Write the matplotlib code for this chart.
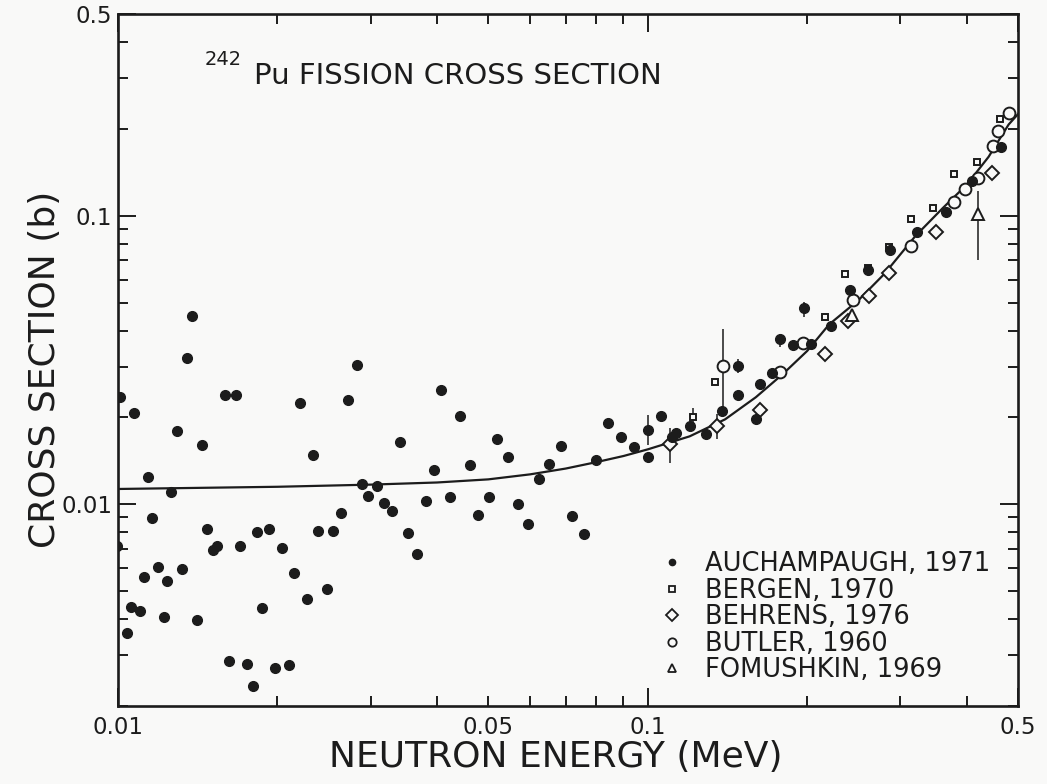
import matplotlib
matplotlib.use('Agg')
import matplotlib.pyplot as plt
from matplotlib.ticker import FixedLocator, FixedFormatter
from matplotlib.lines import Line2D

# Auchampaugh 1971 (filled dots)
auch_x = [0.0101, 0.0107, 0.0138, 0.0135, 0.0129, 0.0159, 0.0167, 0.0144, 0.0114, 0.0126,
          0.0116, 0.00997, 0.0104, 0.0106, 0.011, 0.0112, 0.0119, 0.0124, 0.0122, 0.0132,
          0.0141, 0.0147, 0.0151, 0.0154, 0.017, 0.0162, 0.0175, 0.018, 0.0183, 0.0193,
          0.0187, 0.0204, 0.0198, 0.021, 0.0215, 0.0221, 0.0227, 0.0233, 0.0239, 0.0248,
          0.0255, 0.0264, 0.0272, 0.0282, 0.0289, 0.0308, 0.0297, 0.0318, 0.0329, 0.0341,
          0.0352, 0.0367, 0.0382, 0.0395, 0.0408, 0.0424, 0.0442, 0.0461, 0.0478, 0.0501,
          0.052, 0.0544, 0.057, 0.0594, 0.0624, 0.0652, 0.0686, 0.072, 0.0757, 0.0797,
          0.0843, 0.0891, 0.0942,
          0.1, 0.1, 0.106, 0.111, 0.113, 0.12, 0.129, 0.138, 0.148, 0.148,
          0.16, 0.163, 0.172, 0.178, 0.188, 0.203, 0.197, 0.222, 0.241, 0.261,
          0.287, 0.322, 0.366, 0.409, 0.464]
auch_y = [0.0236, 0.0208, 0.0449, 0.0321, 0.018, 0.024, 0.0239, 0.016, 0.0124, 0.011,
          0.00893, 0.00717, 0.00358, 0.0044, 0.00426, 0.00562, 0.00608, 0.00543, 0.00407, 0.00597,
          0.00396, 0.00818, 0.00692, 0.00719, 0.00717, 0.00287, 0.00279, 0.00234, 0.008, 0.00824,
          0.00436, 0.00707, 0.0027, 0.00278, 0.00578, 0.0224, 0.00469, 0.0148, 0.00806, 0.00507,
          0.00811, 0.00935, 0.023, 0.0304, 0.0118, 0.0116, 0.0107, 0.0101, 0.00951, 0.0165,
          0.00796, 0.00673, 0.0103, 0.0131, 0.0248, 0.0106, 0.0203, 0.0137, 0.00918, 0.0106,
          0.0169, 0.0146, 0.01, 0.00856, 0.0122, 0.0138, 0.0159, 0.00914, 0.0079, 0.0142,
          0.0191, 0.0171, 0.0158,
          0.0181, 0.0146, 0.0202, 0.0171, 0.0176, 0.0187, 0.0175, 0.021, 0.0301, 0.0239,
          0.0197, 0.0262, 0.0285, 0.0374, 0.0356, 0.0358, 0.0477, 0.0415, 0.0552, 0.0651,
          0.0761, 0.0876, 0.103, 0.132, 0.173]

# Bergen 1970 (small open squares)
bergen_x = [0.122, 0.134, 0.216, 0.236, 0.261, 0.286, 0.314, 0.346, 0.379, 0.419, 0.462]
bergen_y = [0.02, 0.0265, 0.0446, 0.0627, 0.0661, 0.078, 0.0972, 0.106, 0.14, 0.153, 0.217]

# Behrens 1976 (open diamonds)
behrens_x = [0.11, 0.135, 0.163, 0.216, 0.239, 0.262, 0.286, 0.35, 0.447]
behrens_y = [0.0162, 0.0187, 0.0213, 0.0332, 0.0431, 0.0529, 0.0634, 0.0881, 0.141]

# Butler 1960 (open circles)
butler_x = [0.139, 0.178, 0.196, 0.244, 0.314, 0.379, 0.397, 0.42, 0.449, 0.459, 0.481]
butler_y = [0.0301, 0.0287, 0.0361, 0.0509, 0.0784, 0.112, 0.124, 0.135, 0.175, 0.197, 0.227]

# Fomushkin 1969 (open triangles)
fom_x = [0.42, 0.243]
fom_y = [0.101, 0.0452]

# vertical error bars
eb_x = [0.1, 0.11, 0.122, 0.135, 0.139, 0.148, 0.163, 0.178, 0.197, 0.42]
eb_lo = [0.0161, 0.0139, 0.019, 0.0168, 0.021, 0.0284, 0.025, 0.0351, 0.0444, 0.0701]
eb_hi = [0.0204, 0.0184, 0.0216, 0.0206, 0.0405, 0.0318, 0.0272, 0.0389, 0.0501, 0.122]

# evaluated curve
fit_x = [0.01, 0.02, 0.03, 0.04, 0.05, 0.06, 0.07, 0.08, 0.09, 0.1, 0.12, 0.14, 0.16,
         0.18, 0.2, 0.22, 0.25, 0.28, 0.32, 0.36, 0.4, 0.44, 0.48, 0.5]
fit_y = [0.0113, 0.0115, 0.0117, 0.0119, 0.0122, 0.0127, 0.0133, 0.014, 0.0147, 0.0155,
         0.0172, 0.0197, 0.0235, 0.0283, 0.034, 0.042, 0.051, 0.063, 0.085, 0.106, 0.128,
         0.16, 0.207, 0.225]

legend_labels = ['AUCHAMPAUGH, 1971', 'BERGEN, 1970', 'BEHRENS, 1976', 'BUTLER, 1960',
                 'FOMUSHKIN, 1969']

xmajor = [0.01, 0.1, 0.5]
xmajor_lab = ['0.01', '0.1', '0.5']
xminor = [0.02, 0.03, 0.04, 0.05, 0.06, 0.07, 0.08, 0.09, 0.2, 0.3, 0.4]
xminor_lab = ['', '', '', '0.05', '', '', '', '', '', '', '']
ymajor = [0.01, 0.1, 0.5]
ymajor_lab = ['0.01', '0.1', '0.5']
yminor = [0.002, 0.003, 0.004, 0.005, 0.006, 0.007, 0.008, 0.009,
          0.02, 0.03, 0.04, 0.05, 0.06, 0.07, 0.08, 0.09, 0.2, 0.3, 0.4]

plt.rcParams['font.family'] = ['DejaVu Sans']
paper = '#f9f9f8'
ink = '#1c1c1c'

fig = plt.figure(figsize=(10.47, 7.84), dpi=100, facecolor=paper)
ax = fig.add_axes([0.1127, 0.0995, 0.8596, 0.8826])
ax.set_facecolor(paper)
ax.set_xscale('log')
ax.set_yscale('log')
ax.set_xlim(0.01, 0.5)
ax.set_ylim(0.002, 0.5)

ax.plot(fit_x, fit_y, color=ink, lw=1.6, zorder=2)
ax.vlines(eb_x, eb_lo, eb_hi, color=ink, lw=1.1, zorder=2)
ax.plot(bergen_x, bergen_y, 's', ls='none', ms=5, mfc=paper, mec=ink, mew=1.4, zorder=3)
ax.plot(behrens_x, behrens_y, 'D', ls='none', ms=7, mfc=paper, mec=ink, mew=1.4, zorder=3)
ax.plot(butler_x, butler_y, 'o', ls='none', ms=8.5, mfc=paper, mec=ink, mew=1.4, zorder=3)
ax.plot(fom_x, fom_y, '^', ls='none', ms=8.5, mfc=paper, mec=ink, mew=1.4, zorder=3)
ax.plot(auch_x, auch_y, 'o', ls='none', ms=7, color=ink, zorder=4)

ax.xaxis.set_major_locator(FixedLocator(xmajor))
ax.xaxis.set_major_formatter(FixedFormatter(xmajor_lab))
ax.xaxis.set_minor_locator(FixedLocator(xminor))
ax.xaxis.set_minor_formatter(FixedFormatter(xminor_lab))
ax.yaxis.set_major_locator(FixedLocator(ymajor))
ax.yaxis.set_major_formatter(FixedFormatter(ymajor_lab))
ax.yaxis.set_minor_locator(FixedLocator(yminor))
ax.yaxis.set_minor_formatter(FixedFormatter([''] * len(yminor)))

ax.tick_params(which='both', direction='in', top=True, right=True, color=ink,
               labelcolor=ink, labelsize=16.5, width=1.4)
ax.tick_params(which='major', length=13)
ax.tick_params(which='minor', length=7)
ax.tick_params(axis='x', which='both', pad=7)
ax.tick_params(axis='y', which='both', pad=4)
for s in ax.spines.values():
    s.set_linewidth(1.9)
    s.set_color(ink)

fig.text(45 / 1047, 1 - 369 / 784, 'CROSS SECTION (b)', rotation=90, ha='center', va='center',
         fontsize=26, color=ink)
fig.text(556 / 1047, 1 - 757 / 784, 'NEUTRON ENERGY (MeV)', ha='center', va='center',
         fontsize=26, color=ink)
fig.text(205 / 1047, 1 - 65 / 784, '242', ha='left', va='baseline', fontsize=14, color=ink)
fig.text(254 / 1047, 1 - 84 / 784, 'Pu FISSION CROSS SECTION', ha='left', va='baseline',
         fontsize=21, color=ink)

handles = [Line2D([], [], ls='none', marker='o', ms=4.5, color=ink),
           Line2D([], [], ls='none', marker='s', ms=4, mfc=paper, mec=ink, mew=1.3),
           Line2D([], [], ls='none', marker='D', ms=6, mfc=paper, mec=ink, mew=1.3),
           Line2D([], [], ls='none', marker='o', ms=6, mfc=paper, mec=ink, mew=1.3),
           Line2D([], [], ls='none', marker='^', ms=5.5, mfc=paper, mec=ink, mew=1.3)]
leg = ax.legend(handles, legend_labels, loc='upper left', bbox_to_anchor=(0.601, 0.224),
                frameon=False, prop={'size': 18.5}, handlelength=1.0,
                handletextpad=0.79, labelspacing=0.02, borderpad=0, borderaxespad=0)
for t in leg.get_texts():
    t.set_color(ink)

fig.savefig('out.png', dpi=100, facecolor=paper)
